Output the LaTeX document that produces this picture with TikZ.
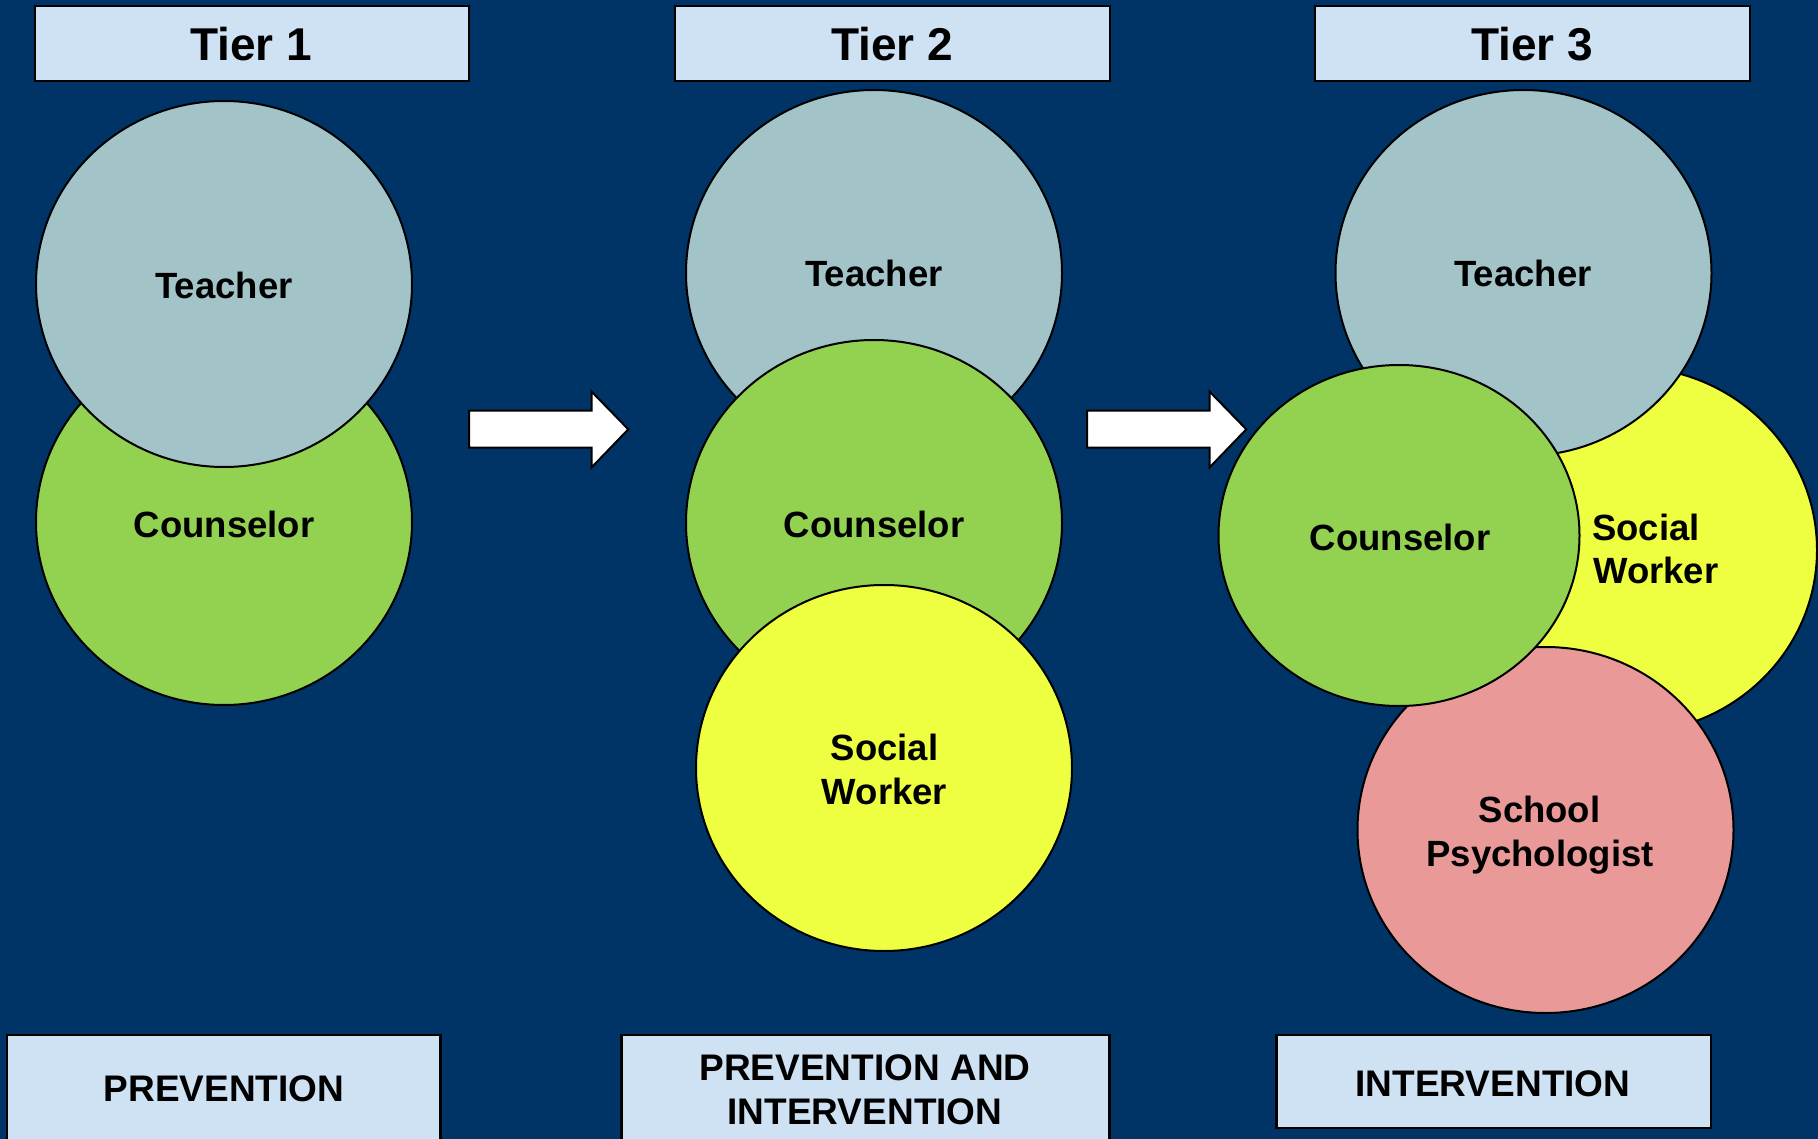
\documentclass[tikz,border=0pt]{standalone}
\usepackage{fontspec}
\setmainfont{Liberation Sans}
\usetikzlibrary{shapes.geometric}
\definecolor{bgnavy}{RGB}{0,51,102}
\definecolor{teachc}{RGB}{162,196,201}
\definecolor{counsc}{RGB}{147,209,80}
\definecolor{socc}{RGB}{237,255,64}
\definecolor{psyc}{RGB}{234,153,153}
\definecolor{boxc}{RGB}{207,226,243}
\tikzset{
  circ/.style={ellipse, draw=black, line width=2pt, inner sep=0pt,
    minimum width=376pt, minimum height=366pt},
  tierbox/.style={draw=black, line width=2.5pt, fill=boxc},
  blockarrow/.style={draw=black, line width=2pt, fill=white, line join=miter},
  circtext/.style={font=\bfseries\fontsize{36.5}{44}\selectfont, inner sep=0pt, anchor=base},
  titletext/.style={font=\bfseries\fontsize{46}{55}\selectfont, inner sep=0pt, anchor=base},
  bottext/.style={font=\bfseries\fontsize{37}{44}\selectfont, inner sep=0pt, anchor=base}
}
\begin{document}
\begin{tikzpicture}[x=1pt,y=-1pt]
\useasboundingbox (0,0) rectangle (1818,1139);
\clip (0,0) rectangle (1818,1139);
\fill[bgnavy] (0,0) rectangle (1818,1139);

% title boxes
\draw[tierbox] (35,6) rectangle (469,81);
\draw[tierbox] (675,6) rectangle (1110,81);
\draw[tierbox] (1315,6) rectangle (1750,81);
\node[titletext] (t1) at (251,61) {Tier 1};
\node[titletext] (t2) at (892,61) {Tier 2};
\node[titletext] (t3) at (1532,61) {Tier 3};

% Tier 1 circles
\node[circ, fill=counsc] (c1couns) at (224,522) {};
\node[circ, fill=teachc] (c1teach) at (224,284) {};
\node[circtext] (l1teach) at (224,299) {Teacher};
\node[circtext] (l1couns) at (224,537.5) {Counselor};

% Tier 2 circles
\node[circ, fill=teachc] (c2teach) at (874,273) {};
\node[circ, fill=counsc] (c2couns) at (874,523) {};
\node[circ, fill=socc] (c2soc) at (884,768) {};
\node[circtext] (l2teach) at (874,286.5) {Teacher};
\node[circtext] (l2couns) at (874,537.5) {Counselor};
\node[circtext] (l2soca) at (884.5,760) {Social};
\node[circtext] (l2socb) at (884.5,804) {Worker};

% Tier 3 circles
\node[circ, fill=socc] (c3soc) at (1629,550) {};
\node[circ, fill=teachc] (c3teach) at (1523.5,273) {};
\node[circ, fill=psyc] (c3psy) at (1545.5,830) {};
\node[circ, fill=counsc, minimum width=361pt, minimum height=341pt] (c3couns) at (1399,535.5) {};
\node[circtext] (l3teach) at (1523,286.5) {Teacher};
\node[circtext] (l3couns) at (1400,550) {Counselor};
\node[circtext, anchor=base west] (l3soca) at (1592,540) {Social};
\node[circtext, anchor=base west] (l3socb) at (1593,583) {Worker};
\node[circtext] (l3psya) at (1539.5,822.5) {School};
\node[circtext] (l3psyb) at (1540,866.5) {Psychologist};

% block arrows
\draw[blockarrow] (469,410.7) -- (591.7,410.7) -- (591.7,391.7) -- (628.3,429.3)
  -- (591.7,467.3) -- (591.7,447.7) -- (469,447.7) -- cycle;
\draw[blockarrow] (1087,410.7) -- (1209.7,410.7) -- (1209.7,391.7) -- (1246.3,429.3)
  -- (1209.7,467.3) -- (1209.7,447.7) -- (1087,447.7) -- cycle;

% bottom boxes
\draw[tierbox] (7,1035) rectangle (440.5,1150);
\draw[tierbox] (621.5,1035) rectangle (1109.5,1150);
\draw[tierbox] (1276.5,1035) rectangle (1711,1128);
\node[bottext] (b1) at (224,1101.5) {PREVENTION};
\node[bottext] (b2a) at (865,1080) {PREVENTION AND};
\node[bottext] (b2b) at (865,1124) {INTERVENTION};
\node[bottext] (b3) at (1493,1096.5) {INTERVENTION};
\end{tikzpicture}
\end{document}
